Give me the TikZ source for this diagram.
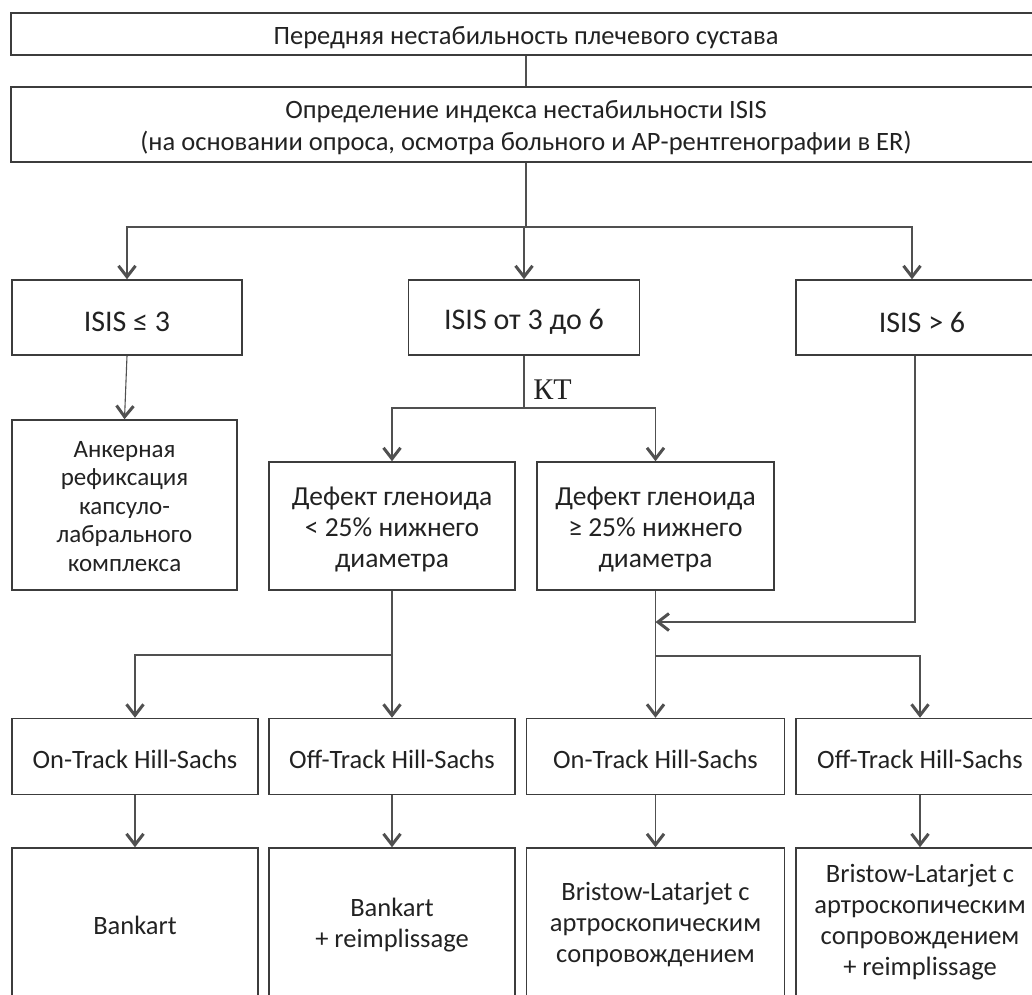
\documentclass[tikz,border=0pt]{standalone}
\usepackage{fontspec}
\setmainfont{Carlito}
\newfontfamily\ktfont{Liberation Serif}
\usetikzlibrary{arrows.meta}
\definecolor{ln}{HTML}{3C3C3C}
\definecolor{cn}{HTML}{505050}
\definecolor{tx}{HTML}{222222}
\begin{document}
\begin{tikzpicture}[x=1pt,y=-1pt,
  box/.style={draw=ln, line width=1.5pt, inner sep=0pt},
  txt/.style={inner sep=0pt, align=center, text=tx},
  fa/.style={txt, font=\fontsize{26.5}{32}\selectfont},
  fb/.style={txt, font=\fontsize{30}{34}\selectfont},
  fk/.style={txt, font=\fontsize{25}{28.5}\selectfont},
  fd/.style={txt, font=\fontsize{27.5}{31}\selectfont},
  fe/.style={txt, font=\fontsize{26.5}{31}\selectfont},
  conn/.style={draw=cn, line width=1.1pt},
  arr/.style={conn, -{Straight Barb[length=11pt,width=17pt,line width=3pt]}},
]
\path[use as bounding box] (0,0) rectangle (1032,994);
\clip (0,0) rectangle (1032,994);

% boxes
\node[box, minimum width=1030pt, minimum height=42pt] (top) at (526,34) {};
\node[box, minimum width=1030pt, minimum height=75pt] (isis) at (526,124.5) {};
\node[box, minimum width=230pt, minimum height=75pt] (a) at (127,317.5) {};
\node[box, minimum width=231pt, minimum height=75pt] (b) at (524,317.5) {};
\node[box, minimum width=252pt, minimum height=75pt] (c) at (922,317.5) {};
\node[box, minimum width=225pt, minimum height=170pt] (anker) at (124.5,505) {};
\node[box, minimum width=246pt, minimum height=128pt] (d1) at (392,526) {};
\node[box, minimum width=237pt, minimum height=128pt] (d2) at (655.5,526) {};
\node[box, minimum width=246pt, minimum height=76pt] (ot1) at (135,756.5) {};
\node[box, minimum width=246pt, minimum height=76pt] (oft1) at (392,756.5) {};
\node[box, minimum width=258pt, minimum height=76pt] (ot2) at (655.5,756.5) {};
\node[box, minimum width=248pt, minimum height=76pt] (oft2) at (920,756.5) {};
\node[box, minimum width=246pt, minimum height=154pt] (r1) at (135,925) {};
\node[box, minimum width=246pt, minimum height=154pt] (r2) at (392,925) {};
\node[box, minimum width=258pt, minimum height=154pt] (r3) at (655.5,925) {};
\node[box, minimum width=248pt, minimum height=154pt] (r4) at (920,925) {};

% texts
\node[fa] (topT) at ([yshift=-3.5pt]top.center) {Передняя нестабильность плечевого сустава};
\node[fa] (isisT) at ([yshift=-3.5pt]isis.center) {Определение индекса нестабильности ISIS\\(на основании опроса, осмотра больного и АР-рентгенографии в ER)};
\node[fb] (aT) at ([yshift=-4.5pt]a.center) {ISIS ≤ 3};
\node[fb] (bT) at ([yshift=-4.5pt]b.center) {ISIS от 3 до 6};
\node[fb] (cT) at ([yshift=-4.5pt]c.center) {ISIS > 6};
\node[fk] (ankerT) at ([yshift=-1.5pt]anker.center) {Анкерная\\рефиксация\\капсуло-\\лабрального\\комплекса};
\node[fd] (d1T) at ([yshift=-3.5pt]d1.center) {Дефект гленоида\\< 25\% нижнего\\диаметра};
\node[fd] (d2T) at ([yshift=-3.5pt]d2.center) {Дефект гленоида\\≥ 25\% нижнего\\диаметра};
\node[fe] (ot1T) at ([yshift=-3pt]ot1.center) {On-Track Hill-Sachs};
\node[fe] (oft1T) at ([yshift=-3pt]oft1.center) {Off-Track Hill-Sachs};
\node[fe] (ot2T) at ([yshift=-3pt]ot2.center) {On-Track Hill-Sachs};
\node[fe] (oft2T) at ([yshift=-3pt]oft2.center) {Off-Track Hill-Sachs};
\node[fe] (r1T) at (r1.center) {Bankart};
\node[fe] (r2T) at (r2.center) {Bankart\\+ reimplissage};
\node[fe] (r3T) at (r3.center) {Bristow-Latarjet с\\артроскопическим\\сопровождением};
\node[fe] (r4T) at ([yshift=3pt]r4.center) {Bristow-Latarjet с\\артроскопическим\\сопровождением\\+ reimplissage};

% connectors
\draw[conn] (top) -- (isis);
\coordinate (s1) at (526,227);
\draw[conn] (isis.south) -- (s1);
\draw[arr] (s1) -| (a.north);
\draw[arr] (s1) -| (b.north);
\draw[arr] (s1) -| ([xshift=-10pt]c.north);

\draw[arr] (a.south) -- (anker.north);

\coordinate (s2) at (524,408);
\draw[conn] (b.south) -- (s2);
\node[txt, font=\ktfont\fontsize{30}{32}\selectfont] (kt) at (552.5,390) {КТ};
\draw[arr] (s2) -| (d1.north);
\draw[arr] (s2) -| (d2.north);

\coordinate (m) at (655.5,622);
\draw[arr] ([xshift=-7pt]c.south) |- (m);

\coordinate (s4) at (392,655);
\draw[conn] (d1.south) -- (s4);
\draw[arr] (s4) -| (ot1.north);
\draw[arr] (s4) -- (oft1.north);

\coordinate (s5) at (655.5,656);
\draw[arr] (d2.south) -- (ot2.north);
\draw[arr] (s5) -| (oft2.north);

\draw[arr] (ot1) -- (r1);
\draw[arr] (oft1) -- (r2);
\draw[arr] (ot2) -- (r3);
\draw[arr] (oft2) -- (r4);
\end{tikzpicture}
\end{document}
